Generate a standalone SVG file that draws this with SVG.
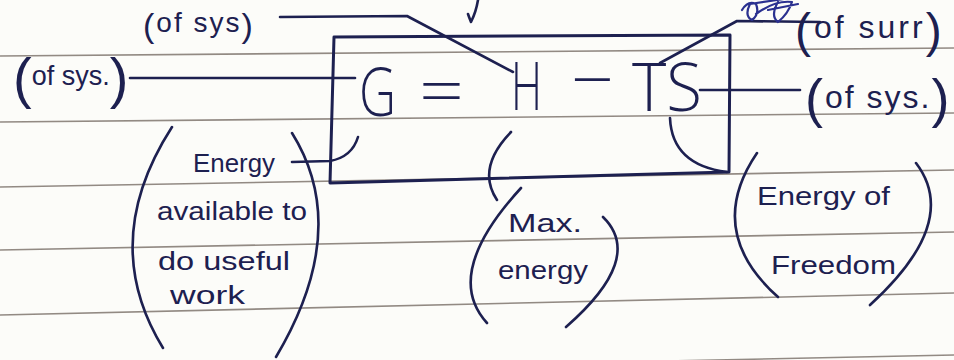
<svg xmlns="http://www.w3.org/2000/svg" width="954" height="360" viewBox="0 0 954 360">
<style>
.ink{fill:none;stroke:#1d2050;stroke-width:2.6;stroke-linecap:round;stroke-linejoin:round}
.blue{fill:none;stroke:#2b3190;stroke-width:2.2;stroke-linecap:round;stroke-linejoin:round}
.rule{fill:none;stroke:#7f766e;stroke-width:1.6;opacity:0.85}
.t{font-family:"Liberation Sans","DejaVu Sans",sans-serif;fill:#1d2050}
.eq{font-family:"Open Sans","Lato","Liberation Sans",sans-serif;font-weight:300;fill:#1d2050;font-size:66px}
.note{font-size:25px}
</style>
<rect width="954" height="360" fill="#fcfcf9"/>
<g id="paper-rules">
<path class="rule" d="M0 56 L954 48"/>
<path class="rule" d="M0 122 L954 113"/>
<path class="rule" d="M0 187 L954 170"/>
<path class="rule" d="M0 250 L954 232"/>
<path class="rule" d="M0 315 L954 293"/>
<path class="rule" d="M0 375 L954 355"/>
</g>

<g id="connectors">
<path class="ink" d="M280 17 L407 16 L513 72"/>
<path class="ink" d="M130 78 L355 78"/>
<path class="ink" d="M478 0 Q476 12 471 22 Q469 17 468 14"/>
<path class="ink" d="M660 63 L737 21 L820 22"/>
<path class="blue" d="M742 10 Q748 0 756 4 Q760 14 752 20 Q744 16 750 4 L790 -2 M756 14 Q775 0 792 2 Q788 14 778 22 Q770 16 778 2 M768 10 L798 4"/>
<path class="ink" d="M700 90 L800 90"/>
<path class="ink" d="M292 162 L330 161 Q352 157 358 137"/>
<path class="ink" d="M511 132 Q476 168 497 200"/>
<path class="ink" d="M670 118 Q672 165 727 172"/>
</g>

<g id="equation-box">
<path class="ink" d="M334 37 L730 35 L729 172 L330 183 Z" style="stroke-width:3"/>
<text class="eq" x="359" y="116" textLength="37" lengthAdjust="spacingAndGlyphs">G</text>
<text class="eq" x="419" y="114" textLength="45" lengthAdjust="spacingAndGlyphs">=</text>
<text class="eq" x="511" y="110" textLength="31" lengthAdjust="spacingAndGlyphs">H</text>
<text class="eq" x="571" y="103" textLength="43" lengthAdjust="spacingAndGlyphs">−</text>
<text class="eq" x="632" y="111" textLength="70" lengthAdjust="spacingAndGlyphs">TS</text>
</g>

<g id="label-top-left">
<text class="t" x="143" y="37" font-size="28" letter-spacing="2"><tspan font-size="34">(</tspan><tspan dy="-5">of sys</tspan><tspan font-size="34" dy="5">)</tspan></text>
</g>

<g id="label-left">
<text class="t" x="13" y="97" font-size="27"><tspan font-size="56">(</tspan><tspan dy="-12">of sys.</tspan><tspan font-size="56" dy="12">)</tspan></text>
</g>

<g id="label-top-right">
<text class="t" x="795" y="47" font-size="32" letter-spacing="3"><tspan font-size="48">(</tspan><tspan dy="-9">of surr</tspan><tspan font-size="48" dy="9">)</tspan></text>
</g>

<g id="label-right">
<text class="t" x="805" y="117" font-size="32" letter-spacing="2"><tspan font-size="54">(</tspan><tspan dy="-9">of sys.</tspan><tspan font-size="54" dy="9">)</tspan></text>
</g>

<g id="note-useful-work">
<path class="ink" d="M172 127 Q98 242 163 348"/>
<path class="ink" d="M292 133 Q352 229 276 357"/>
<text class="t note" x="193" y="172" textLength="82" lengthAdjust="spacingAndGlyphs">Energy</text>
<text class="t note" x="157" y="220" textLength="150" lengthAdjust="spacingAndGlyphs">available to</text>
<text class="t note" x="158" y="270" textLength="132" lengthAdjust="spacingAndGlyphs">do useful</text>
<text class="t note" x="170" y="304" textLength="75" lengthAdjust="spacingAndGlyphs">work</text>
</g>

<g id="note-max-energy">
<path class="ink" d="M521 188 Q442 274 487 323"/>
<path class="ink" d="M603 217 Q645 258 566 327"/>
<text class="t note" x="508" y="232" textLength="74" lengthAdjust="spacingAndGlyphs">Max.</text>
<text class="t note" x="498" y="279" textLength="90" lengthAdjust="spacingAndGlyphs">energy</text>
</g>

<g id="note-freedom">
<path class="ink" d="M757 153 Q704 231 778 297"/>
<path class="ink" d="M916 163 Q961 222 870 305"/>
<text class="t note" x="757" y="205" textLength="133" lengthAdjust="spacingAndGlyphs">Energy of</text>
<text class="t note" x="771" y="274" textLength="125" lengthAdjust="spacingAndGlyphs">Freedom</text>
</g>
</svg>
